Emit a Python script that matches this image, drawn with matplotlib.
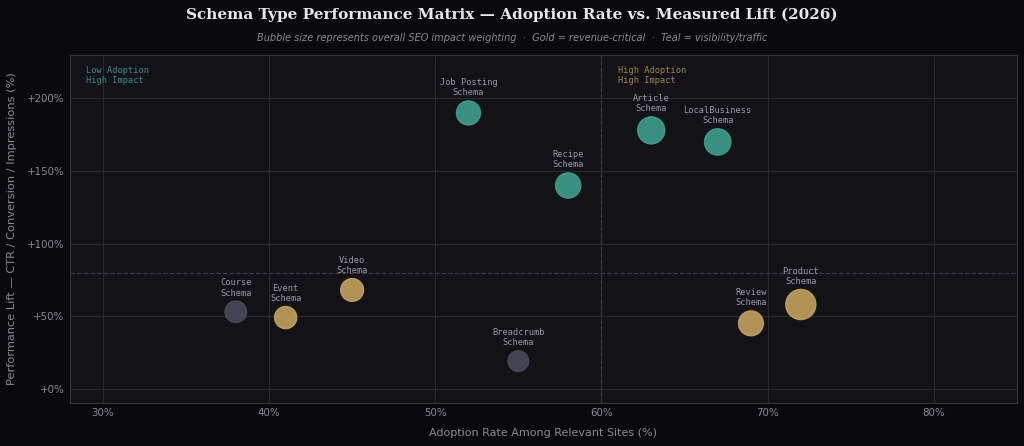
import numpy as np
import matplotlib.pyplot as plt

names = ["Job Posting\nSchema", "Article\nSchema", "LocalBusiness\nSchema", "Recipe\nSchema",
         "Video\nSchema", "Course\nSchema", "Event\nSchema", "Breadcrumb\nSchema",
         "Review\nSchema", "Product\nSchema"]
adoption = [52, 63, 67, 58, 45, 38, 41, 55, 69, 72]
lift = [190, 178, 170, 140, 68, 53, 49, 19, 45, 58]
impact = [300, 380, 360, 330, 270, 240, 255, 220, 320, 470]
group = ["teal", "teal", "teal", "teal", "gold", "grey", "gold", "grey", "gold", "gold"]

colors = {"teal": "#3fa38f", "gold": "#c9a660", "grey": "#4b4b5a"}
bg = "#0a0a0c"
panel = "#121217"

fig = plt.figure(figsize=(10.24, 4.46), dpi=100, facecolor=bg)
ax = fig.add_axes([0.068, 0.096, 0.925, 0.781], facecolor=panel)

ax.set_xlim(28, 85)
ax.set_ylim(-10, 230)
ax.set_xticks([30, 40, 50, 60, 70, 80])
ax.set_xticklabels([f"{v}%" for v in [30, 40, 50, 60, 70, 80]])
ax.set_yticks([0, 50, 100, 150, 200])
ax.set_yticklabels([f"+{v}%" for v in [0, 50, 100, 150, 200]])
ax.grid(True, color="#28282f", linewidth=0.8)
ax.set_axisbelow(True)
ax.tick_params(colors="#8a8a96", labelsize=7.4, length=0, pad=3.5)
for s in ax.spines.values():
    s.set_color("#34343e")

ax.axvline(60, color="#3a3a46", linestyle="--", linewidth=0.9, zorder=1)
ax.axhline(80, color="#3a3a46", linestyle="--", linewidth=0.9, zorder=1)

ax.scatter(adoption, lift, s=impact, c=[colors[g] for g in group], alpha=0.88,
           edgecolors=[colors[g] for g in group], linewidths=1.0, zorder=3)

for x, y, n, s in zip(adoption, lift, names, impact):
    ax.annotate(n, (x, y), xytext=(0, np.sqrt(s) / 2 + 2.5), textcoords="offset points",
                ha="center", va="bottom", fontsize=6.2, family="DejaVu Sans Mono",
                color="#9a9aa6", linespacing=1.15, zorder=4)

ax.text(29, 222, "Low Adoption\nHigh Impact", fontsize=6.2, family="DejaVu Sans Mono",
        color="#3a8f7e", va="top", ha="left", linespacing=1.05)
ax.text(61, 222, "High Adoption\nHigh Impact", fontsize=6.2, family="DejaVu Sans Mono",
        color="#a08450", va="top", ha="left", linespacing=1.05)

ax.set_xlabel("Adoption Rate Among Relevant Sites (%)", color="#8a8a96", fontsize=8, labelpad=7)
ax.set_ylabel("Performance Lift — CTR / Conversion / Impressions (%)", color="#8a8a96",
              fontsize=8.2, labelpad=7)

fig.text(0.5, 0.966, "Schema Type Performance Matrix — Adoption Rate vs. Measured Lift (2026)",
         ha="center", va="center", fontsize=11, family="DejaVu Serif", weight="bold",
         color="#e8e8ec")
fig.text(0.5, 0.915, "Bubble size represents overall SEO impact weighting  ·  Gold = revenue-critical  ·  Teal = visibility/traffic",
         ha="center", va="center", fontsize=7, style="italic", color="#8a8a96")

fig.savefig("out.png", dpi=100, facecolor=bg)
